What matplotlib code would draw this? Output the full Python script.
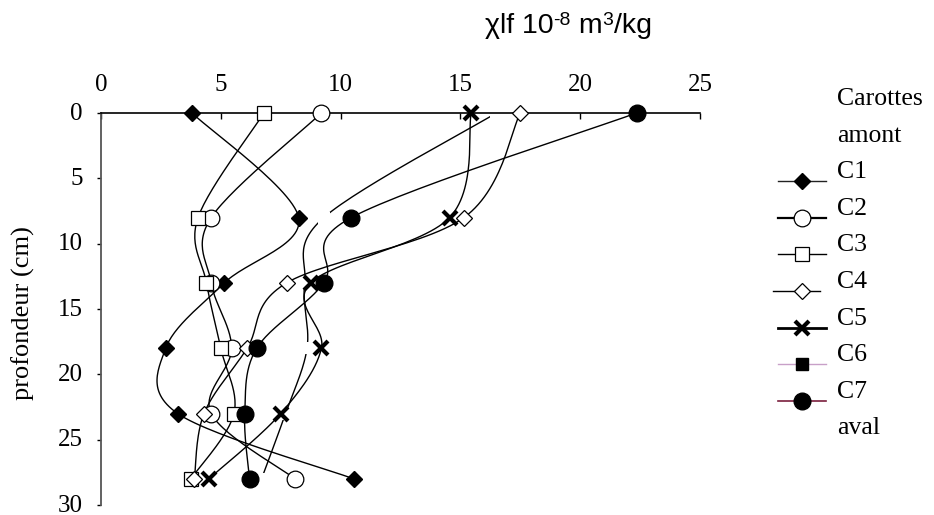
import numpy as np
import matplotlib
matplotlib.use("Agg")
import matplotlib.pyplot as plt
from matplotlib.transforms import ScaledTranslation

plt.rcParams['font.family'] = ['Liberation Serif', 'DejaVu Serif']

# profondeur (cm)
profondeur = [0, 8, 13, 18, 23, 28]

# chi lf (10-8 m3/kg) par carotte
c1 = [3.8, 8.25, 5.15, 2.7, 3.2, 10.55]
c2 = [9.2, 4.6, 4.6, 5.45, 4.6, 8.1]
c3 = [6.8, 4.05, 4.4, 5.0, 5.55, 3.75]
c4 = [17.5, 15.15, 7.75, 6.1, 4.3, 3.9]
c5 = [15.45, 14.55, 8.75, 9.2, 7.5, 4.5]
c6 = [16.5, 9.3, 8.5, 8.6, 7.7, 6.7]
c7 = [22.35, 10.45, 9.3, 6.5, 6.0, 6.2]

noms = ['C1', 'C2', 'C3', 'C4', 'C5', 'C6', 'C7']
series = [c1, c2, c3, c4, c5, c6, c7]


def lissage(x, y, n=30):
    """courbe lissee type Excel (Bezier Catmull-Rom)"""
    p = np.column_stack([x, y]).astype(float)
    pts = []
    for i in range(len(p) - 1):
        p0 = p[max(i - 1, 0)]
        p1 = p[i]
        p2 = p[i + 1]
        p3 = p[min(i + 2, len(p) - 1)]
        b1 = p1 + (p2 - p0) / 6
        b2 = p2 - (p3 - p1) / 6
        t = np.linspace(0, 1, n)[:, None]
        seg = ((1 - t) ** 3 * p1 + 3 * (1 - t) ** 2 * t * b1
               + 3 * (1 - t) * t ** 2 * b2 + t ** 3 * p2)
        pts.append(seg if i == 0 else seg[1:])
    pts = np.vstack(pts)
    return pts[:, 0], pts[:, 1]


W, H = 934, 515
fig = plt.figure(figsize=(W / 100, H / 100), dpi=100)
ax = fig.add_axes([101 / W, 1 - 505 / H, 599 / W, 392 / H])

# styles des marqueurs
styles = {
    'C1': dict(marker='D', ms=8, mfc='black', mec='black', mew=1),
    'C2': dict(marker='o', ms=12, mfc='white', mec='black', mew=0.9),
    'C3': dict(marker='s', ms=10, mfc='white', mec='black', mew=0.9),
    'C4': dict(marker='D', ms=8, mfc='white', mec='black', mew=0.9),
    'C5': dict(marker='x', ms=10, mfc='black', mec='black', mew=3),
    'C6': dict(marker='s', ms=8, mfc='white', mec='white', mew=0),
    'C7': dict(marker='o', ms=12, mfc='black', mec='black', mew=1),
}

for nom, vals in zip(noms, series):
    xs, ys = lissage(vals, profondeur)
    z = 2.0 if nom == 'C6' else 2.2
    ax.plot(xs, ys, color='black', lw=1.0, zorder=z)
for nom, vals in zip(noms, series):
    z = 2.1 if nom == 'C6' else 3
    ax.plot(vals, profondeur, ls='none', zorder=z, clip_on=False, **styles[nom])

ax.set_xlim(0, 25)
ax.set_ylim(30, 0)
ax.xaxis.tick_top()
ax.set_xticks(range(0, 26, 5))
ax.set_yticks(range(0, 31, 5))
ax.tick_params(axis='x', direction='in', length=4, width=1, labelsize=18, pad=12)
ax.tick_params(axis='y', direction='out', length=3, width=1, labelsize=18, pad=10)
decalage = ScaledTranslation(0, 2 / 100, fig.dpi_scale_trans)
for lab in ax.get_yticklabels():
    lab.set_transform(lab.get_transform() + decalage)
ax.spines['right'].set_visible(False)
ax.spines['bottom'].set_visible(False)
ax.spines['left'].set_color('#555555')
ax.spines['left'].set_linewidth(1.3)
ax.spines['top'].set_linewidth(1.2)
ax.set_ylabel('profondeur (cm)', fontsize=19)
ax.yaxis.set_label_coords((35 - 101) / 599, 0.49)

# titre en morceaux (exposants avec un vrai tiret)
renderer = fig.canvas.get_renderer()
morceaux = [('χlf 10', 0, 20.5), ('-8', 8, 14), (' m', 0, 20.5), ('3', 8, 14), ('/kg', 0, 20.5)]
x_px = 485
for s, dy, taille in morceaux:
    t = fig.text(x_px / W, 1 - (33 - dy) / H, s, fontsize=taille, va='baseline',
                 ha='left', family=['Liberation Sans', 'DejaVu Sans'])
    x_px = t.get_window_extent(renderer).x1

# legende manuelle (coordonnees pixel)
leg = fig.add_axes([0, 0, 1, 1])
leg.set_xlim(0, W)
leg.set_ylim(H, 0)
leg.axis('off')
leg.patch.set_alpha(0)

textes = ['Carottes', 'amont'] + noms + ['aval']
couleurs = {'C1': '#222222', 'C2': 'black', 'C3': 'black', 'C4': 'black',
            'C5': 'black', 'C6': '#c8a0c8', 'C7': '#7a1f3d'}
largeurs = {'C1': 1.0, 'C2': 1.6, 'C3': 1.0, 'C4': 1.0, 'C5': 2.0, 'C6': 1.0, 'C7': 1.2}
y0 = 105
pas = 36.6
for i, t in enumerate(textes):
    yb = y0 + i * pas
    leg.text(837, yb, t, fontsize=18.5, va='baseline', ha='left')
    if t in styles:
        st = dict(styles[t])
        if t == 'C6':
            st = dict(marker='s', ms=9, mfc='black', mec='black', mew=1)
        x_deb, x_fin = (773, 820) if t == 'C4' else (778, 826)
        leg.plot([x_deb, x_fin], [yb + 3, yb + 3], color=couleurs[t], lw=largeurs[t])
        leg.plot([802], [yb + 3], ls='none', **st)

fig.savefig('out.png', dpi=100)
